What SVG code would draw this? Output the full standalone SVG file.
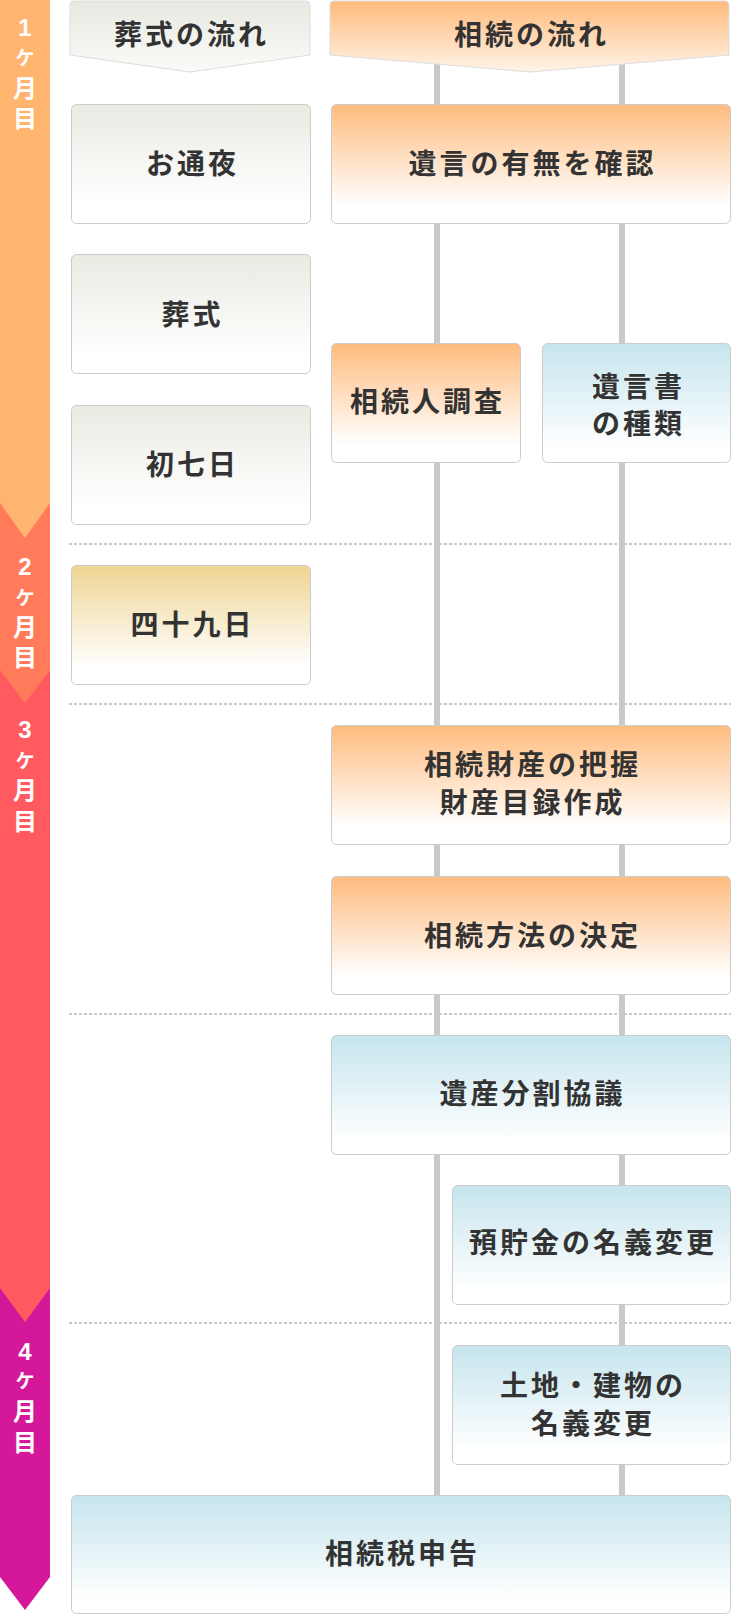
<svg xmlns="http://www.w3.org/2000/svg" width="732" height="1615" viewBox="0 0 732 1615">
<defs>
<linearGradient id="gGray" x1="0" y1="0" x2="0" y2="1"><stop offset="0" stop-color="#eaeae3"/><stop offset="0.85" stop-color="#ffffff"/></linearGradient>
<linearGradient id="gOrange" x1="0" y1="0" x2="0" y2="1"><stop offset="0" stop-color="#ffbc7e"/><stop offset="0.85" stop-color="#ffffff"/></linearGradient>
<linearGradient id="gBlue" x1="0" y1="0" x2="0" y2="1"><stop offset="0" stop-color="#c6e5ee"/><stop offset="0.88" stop-color="#ffffff"/></linearGradient>
<linearGradient id="gGold" x1="0" y1="0" x2="0" y2="1"><stop offset="0" stop-color="#efd593"/><stop offset="0.85" stop-color="#ffffff"/></linearGradient>
<linearGradient id="hGray" x1="0" y1="0" x2="0" y2="1"><stop offset="0" stop-color="#e9e9e2"/><stop offset="1" stop-color="#fafaf8"/></linearGradient>
<linearGradient id="hOrange" x1="0" y1="0" x2="0" y2="1"><stop offset="0" stop-color="#ffba7c"/><stop offset="1" stop-color="#fff4e8"/></linearGradient>
</defs>
<style>
.box{stroke:#cccccc;stroke-width:1}
.hdr{stroke:#dddddd;stroke-width:1}
.t{font-family:"Noto Sans CJK JP","Noto Sans CJK SC",sans-serif;font-weight:700;font-size:28px;letter-spacing:3px;fill:#333333;text-anchor:middle}
.m{font-family:"Liberation Sans","Noto Sans CJK JP","Noto Sans CJK SC",sans-serif;font-weight:700;font-size:24px;fill:#ffffff;text-anchor:middle}
.ms{font-size:19px}
.dot{stroke:#c8c8c8;stroke-width:2;stroke-dasharray:3 2;fill:none}
.vl{fill:#c9c9c9}
</style>
<rect width="732" height="1615" fill="#ffffff"/>

<g id="month-bar">
<polygon points="0,1288 50,1288 50,1577 25,1610 0,1577" fill="#d51899"/>
<polygon points="0,670 50,670 50,1288 25,1322 0,1288" fill="#ff5a60"/>
<polygon points="0,503 50,503 50,670 25,703 0,670" fill="#ff7b5a"/>
<polygon points="0,0 50,0 50,503 25,538 0,503" fill="#ffb46f"/>
<text id="m1" class="m"><tspan x="25" y="36">1</tspan><tspan class="ms" x="25" y="65">ケ</tspan><tspan x="25" y="97">月</tspan><tspan x="25" y="127">目</tspan></text>
<text id="m2" class="m"><tspan x="25" y="575">2</tspan><tspan class="ms" x="25" y="605">ケ</tspan><tspan x="25" y="636">月</tspan><tspan x="25" y="666">目</tspan></text>
<text id="m3" class="m"><tspan x="25" y="738">3</tspan><tspan class="ms" x="25" y="768">ケ</tspan><tspan x="25" y="799">月</tspan><tspan x="25" y="830">目</tspan></text>
<text id="m4" class="m"><tspan x="25" y="1360">4</tspan><tspan class="ms" x="25" y="1388">ケ</tspan><tspan x="25" y="1420">月</tspan><tspan x="25" y="1451">目</tspan></text>
</g>

<g id="dividers">
<line class="dot" x1="69" y1="544" x2="731" y2="544"/>
<line class="dot" x1="69" y1="704" x2="731" y2="704"/>
<line class="dot" x1="69" y1="1014" x2="731" y2="1014"/>
<line class="dot" x1="69" y1="1323" x2="731" y2="1323"/>
</g>

<g id="connectors">
<rect class="vl" x="434" y="50" width="6" height="1448"/>
<rect class="vl" x="619" y="50" width="6" height="1448"/>
</g>

<g id="hdr-funeral">
<path class="hdr" d="M70,5 Q70,1 74,1 L306,1 Q310,1 310,5 L310,55 L190,72 L70,55 Z" fill="url(#hGray)"/>
<text class="t" x="191.5" y="45">葬式の流れ</text>
</g>
<g id="hdr-inherit">
<path class="hdr" d="M330,5 Q330,1 334,1 L725,1 Q729,1 729,5 L729,55 L530,72 L330,55 Z" fill="url(#hOrange)"/>
<text class="t" x="531.5" y="45">相続の流れ</text>
</g>

<g id="n-otsuya"><rect class="box" x="71.5" y="104.5" width="239" height="119" rx="5" fill="url(#gGray)"/><text class="t" x="192.5" y="174">お通夜</text></g>
<g id="n-yuigon"><rect class="box" x="331.5" y="104.5" width="399" height="119" rx="5" fill="url(#gOrange)"/><text class="t" x="532.5" y="174">遺言の有無を確認</text></g>
<g id="n-soushiki"><rect class="box" x="71.5" y="254.5" width="239" height="119" rx="5" fill="url(#gGray)"/><text class="t" x="192.5" y="325">葬式</text></g>
<g id="n-souzokunin"><rect class="box" x="331.5" y="343.5" width="189" height="119" rx="5" fill="url(#gOrange)"/><text class="t" x="427.5" y="412">相続人調査</text></g>
<g id="n-yuigonsho"><rect class="box" x="542.5" y="343.5" width="188" height="119" rx="5" fill="url(#gBlue)"/><text class="t" x="638.5" y="397">遺言書</text><text class="t" x="638.5" y="434">の種類</text></g>
<g id="n-shonanoka"><rect class="box" x="71.5" y="405.5" width="239" height="119" rx="5" fill="url(#gGray)"/><text class="t" x="192.5" y="475">初七日</text></g>
<g id="n-shijuukunichi"><rect class="box" x="71.5" y="565.5" width="239" height="119" rx="5" fill="url(#gGold)"/><text class="t" x="192.5" y="635">四十九日</text></g>
<g id="n-zaisan"><rect class="box" x="331.5" y="725.5" width="399" height="119" rx="5" fill="url(#gOrange)"/><text class="t" x="532.5" y="775">相続財産の把握</text><text class="t" x="532.5" y="813">財産目録作成</text></g>
<g id="n-houhou"><rect class="box" x="331.5" y="876.5" width="399" height="118" rx="5" fill="url(#gOrange)"/><text class="t" x="532.5" y="946">相続方法の決定</text></g>
<g id="n-bunkatsu"><rect class="box" x="331.5" y="1035.5" width="399" height="119" rx="5" fill="url(#gBlue)"/><text class="t" x="532.5" y="1104">遺産分割協議</text></g>
<g id="n-yochokin"><rect class="box" x="452.5" y="1185.5" width="278" height="119" rx="5" fill="url(#gBlue)"/><text class="t" x="593" y="1253">預貯金の名義変更</text></g>
<g id="n-tochi"><rect class="box" x="452.5" y="1345.5" width="278" height="119" rx="5" fill="url(#gBlue)"/><text class="t" x="593" y="1396">土地・建物の</text><text class="t" x="593" y="1434">名義変更</text></g>
<g id="n-zei"><rect class="box" x="71.5" y="1495.5" width="659" height="118" rx="5" fill="url(#gBlue)"/><text class="t" x="402.5" y="1564">相続税申告</text></g>
</svg>
